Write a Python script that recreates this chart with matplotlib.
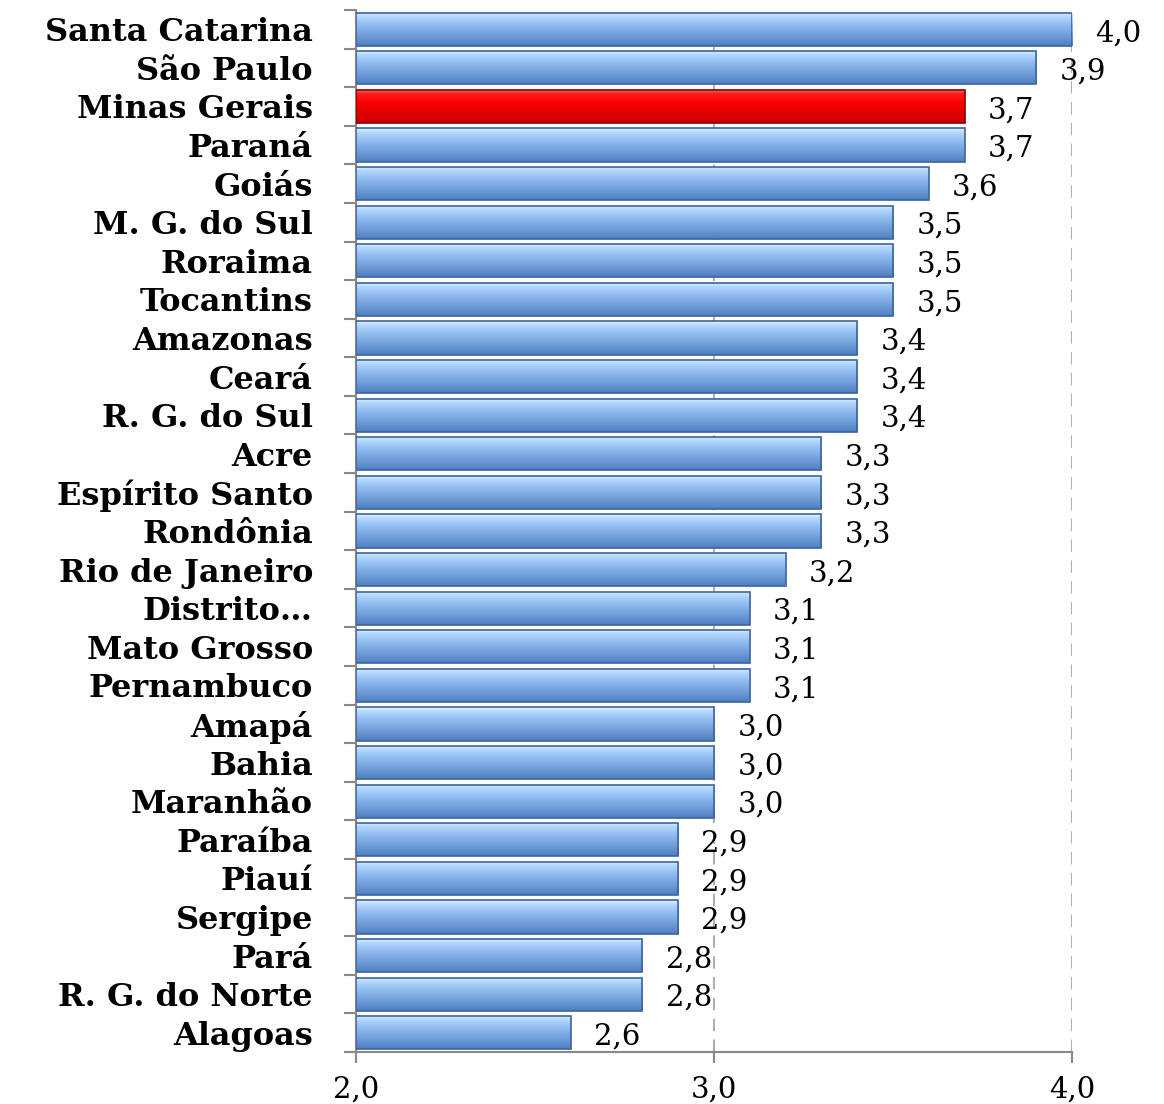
import matplotlib.pyplot as plt
import numpy as np
from matplotlib.colors import LinearSegmentedColormap
from matplotlib.ticker import FixedLocator, FuncFormatter

states = ["Santa Catarina", "São Paulo", "Minas Gerais", "Paraná", "Goiás",
          "M. G. do Sul", "Roraima", "Tocantins", "Amazonas", "Ceará",
          "R. G. do Sul", "Acre", "Espírito Santo", "Rondônia", "Rio de Janeiro",
          "Distrito…", "Mato Grosso", "Pernambuco", "Amapá", "Bahia",
          "Maranhão", "Paraíba", "Piauí", "Sergipe", "Pará",
          "R. G. do Norte", "Alagoas"]
values = [4.0, 3.9, 3.7, 3.7, 3.6, 3.5, 3.5, 3.5, 3.4, 3.4, 3.4, 3.3, 3.3, 3.3,
          3.2, 3.1, 3.1, 3.1, 3.0, 3.0, 3.0, 2.9, 2.9, 2.9, 2.8, 2.8, 2.6]
highlight = "Minas Gerais"
xticks = [2.0, 3.0, 4.0]

blue_cmap = LinearSegmentedColormap.from_list(
    "blue_bar", [(0.0, "#e6f4ff"), (0.12, "#b4d8ff"), (0.35, "#95bff2"),
                 (1.0, "#4f7fc2")])
red_cmap = LinearSegmentedColormap.from_list(
    "red_bar", [(0.0, "#ff8080"), (0.12, "#ff2020"), (0.4, "#fa0000"),
                (1.0, "#cc0000")])

fig = plt.figure(figsize=(11.64, 11.04), dpi=100)
ax = fig.add_axes([0.3058, 0.0471, 0.6152, 0.9439])

y = np.arange(len(states))
height = 0.86
bars = ax.barh(y, [v - 2.0 for v in values], left=2.0, height=height,
               color="none", edgecolor="none", zorder=3)

grad = np.linspace(0, 1, 64).reshape(-1, 1)
for name, v, yy, bar in zip(states, values, y, bars):
    cmap = red_cmap if name == highlight else blue_cmap
    im = ax.imshow(grad, cmap=cmap, aspect="auto", zorder=3,
                   extent=(2.0, v, yy + height / 2, yy - height / 2))
    im.set_clip_path(bar)
    edge = "#8a0000" if name == highlight else "#3b65a0"
    ax.barh(yy, v - 2.0, left=2.0, height=height, color="none",
            edgecolor=edge, linewidth=1.2, zorder=4)
    ax.text(v + 0.065, yy + 0.1, f"{v:.1f}".replace(".", ","), va="center",
            ha="left", fontsize=21, family="DejaVu Serif", zorder=5)

ax.set_xlim(2.0, 4.0)
ax.set_ylim(len(states) - 0.5, -0.5)
ax.set_xticks(xticks)
ax.xaxis.set_major_formatter(FuncFormatter(lambda x, p: f"{x:.1f}".replace(".", ",")))
for lab in ax.get_xticklabels():
    lab.set_fontsize(21)
    lab.set_family("DejaVu Serif")
ax.tick_params(axis="x", length=8, width=1.5, color="#888888", pad=9)

ax.set_yticks(y)
ax.set_yticklabels(states, fontsize=23, fontweight="bold", family="DejaVu Serif")
ax.yaxis.set_minor_locator(FixedLocator(np.arange(-0.5, len(states), 1.0)))
ax.tick_params(axis="y", which="major", length=0, pad=31)
ax.tick_params(axis="y", which="minor", length=9, width=1.5, color="#888888")

ax.grid(axis="x", linestyle=(0, (6, 4)), color="#b0b0b0", linewidth=1.5, zorder=0)
for s in ["top", "right"]:
    ax.spines[s].set_visible(False)
for s in ["left", "bottom"]:
    ax.spines[s].set_color("#888888")
    ax.spines[s].set_linewidth(1.5)

fig.savefig("out.png", dpi=100)
